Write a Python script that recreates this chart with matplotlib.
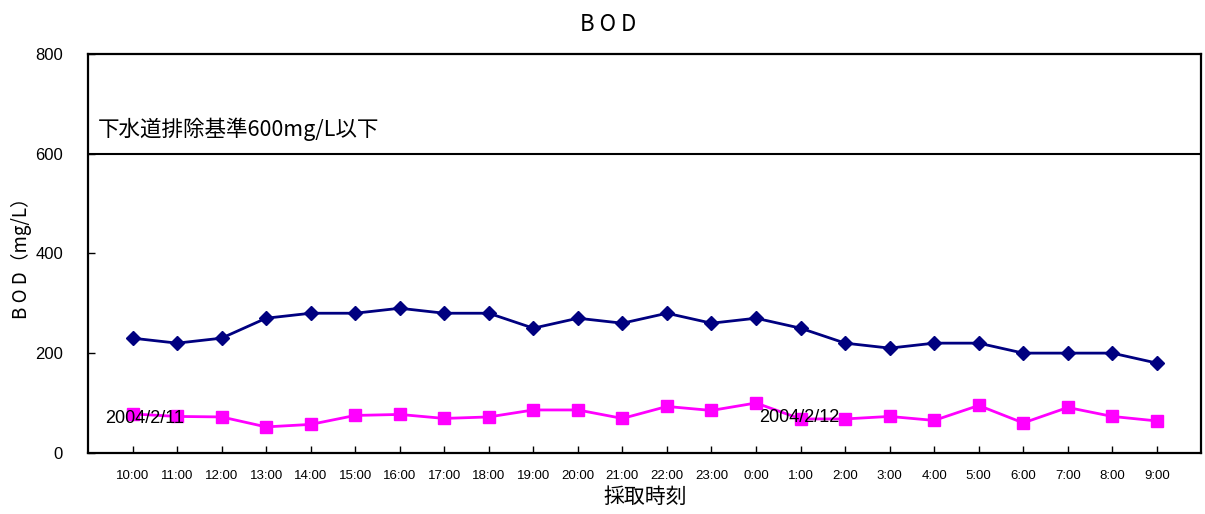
import matplotlib.pyplot as plt

plt.rcParams['font.family'] = ['Noto Sans CJK JP', 'DejaVu Sans']

# Sampling times (2004/2/11 10:00 - 2004/2/12 9:00)
times = ['10:00', '11:00', '12:00', '13:00', '14:00', '15:00', '16:00', '17:00',
         '18:00', '19:00', '20:00', '21:00', '22:00', '23:00', '0:00', '1:00',
         '2:00', '3:00', '4:00', '5:00', '6:00', '7:00', '8:00', '9:00']

bod_day1 = [230, 220, 230, 270, 280, 280, 290, 280, 280, 250, 270, 260,
            280, 260, 270, 250, 220, 210, 220, 220, 200, 200, 200, 180]
bod_day2 = [78, 73, 72, 52, 57, 75, 77, 69, 72, 86, 86, 69,
            93, 85, 100, 68, 68, 73, 65, 95, 60, 91, 73, 64]

limit = 600

x = list(range(len(times)))
latin = ['Liberation Sans', 'DejaVu Sans']

fig = plt.figure(figsize=(12.05, 5.14), dpi=100)
ax = fig.add_axes([0.073, 0.119, 0.924, 0.776])

ax.plot(x, bod_day1, color='#000080', marker='D', markersize=7, linewidth=2)
ax.plot(x, bod_day2, color='#ff00ff', marker='s', markersize=9, linewidth=2)
ax.axhline(limit, color='black', linewidth=1.5)

ax.text(-0.78, 648, '下水道排除基準600mg/L以下', fontsize=15.5, va='center', ha='left')
ax.text(-0.62, 68, '2004/2/11', fontsize=13, va='center', ha='left', family=latin)
ax.text(14.08, 70, '2004/2/12', fontsize=13, va='center', ha='left', family=latin)

ax.set_xlim(-1, 24)
ax.set_ylim(0, 800)
ax.set_yticks([0, 200, 400, 600, 800])
ax.set_xticks(x)
ax.set_xticklabels(times, fontsize=9.5, family=latin)
for lbl in ax.get_yticklabels():
    lbl.set_fontsize(12)
    lbl.set_family(latin)
ax.tick_params(axis='both', direction='in', length=5, width=1, color='black')
ax.tick_params(axis='x', pad=12)
ax.tick_params(axis='y', pad=18)

for s in ax.spines.values():
    s.set_linewidth(1.6)
    s.set_color('black')

fig.text(0.505, 0.952, 'B O D', fontsize=16, ha='center', va='center')
ax.set_xlabel('採取時刻', fontsize=15, labelpad=3)
ax.set_ylabel('B O D（mg/L）', fontsize=13.5, labelpad=2)

fig.savefig('out.png', dpi=100)
